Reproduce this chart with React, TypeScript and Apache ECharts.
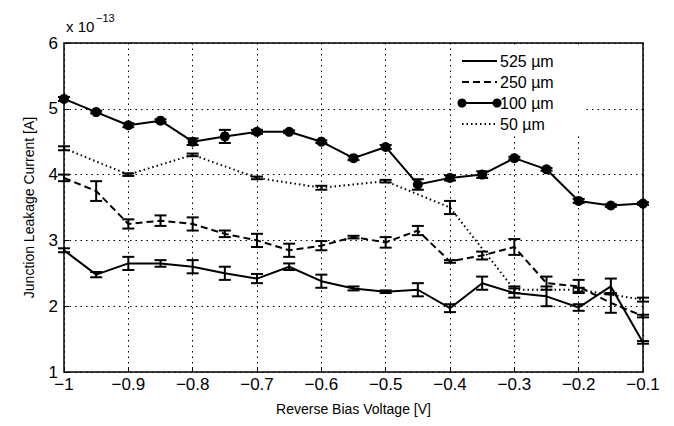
import React, { useEffect, useRef } from "react";
import * as echarts from "echarts";

const volts = [-1, -0.95, -0.9, -0.85, -0.8, -0.75, -0.7, -0.65, -0.6, -0.55, -0.5, -0.45, -0.4, -0.35, -0.3, -0.25, -0.2, -0.15, -0.1];
const volts50 = [-1, -0.9, -0.8, -0.7, -0.6, -0.5, -0.4, -0.3, -0.2, -0.1];

const i525 = [2.85, 2.48, 2.65, 2.65, 2.6, 2.5, 2.42, 2.6, 2.38, 2.27, 2.22, 2.25, 1.97, 2.35, 2.2, 2.15, 1.98, 2.3, 1.45];
const e525 = [0.03, 0.04, 0.1, 0.05, 0.1, 0.1, 0.07, 0.05, 0.1, 0.03, 0.02, 0.1, 0.06, 0.1, 0.07, 0.15, 0.05, 0.12, 0.02];
const i250 = [3.95, 3.75, 3.25, 3.3, 3.25, 3.1, 3.0, 2.85, 2.92, 3.05, 2.97, 3.15, 2.68, 2.77, 2.9, 2.35, 2.3, 2.05, 1.85];
const e250 = [0.05, 0.15, 0.07, 0.08, 0.1, 0.05, 0.1, 0.1, 0.07, 0.02, 0.08, 0.07, 0.02, 0.06, 0.12, 0.1, 0.1, 0.15, 0.02];
const i100 = [5.15, 4.95, 4.75, 4.82, 4.5, 4.58, 4.65, 4.65, 4.5, 4.25, 4.42, 3.85, 3.95, 4.0, 4.25, 4.08, 3.6, 3.53, 3.56];
const e100 = [0.03, 0.02, 0.03, 0.02, 0.05, 0.1, 0.03, 0.02, 0.02, 0.03, 0.03, 0.08, 0.04, 0.05, 0.02, 0.02, 0.03, 0.02, 0.02];
const i50 = [4.4, 4.0, 4.3, 3.95, 3.8, 3.9, 3.5, 2.25, 2.25, 2.1];
const e50 = [0.03, 0.02, 0.02, 0.02, 0.03, 0.02, 0.1, 0.05, 0.03, 0.03];

const xTicks = [-1, -0.9, -0.8, -0.7, -0.6, -0.5, -0.4, -0.3, -0.2, -0.1];

const FONT = "Liberation Sans";

function pairs(xs: number[], ys: number[]) {
  return xs.map((x, i) => [x, ys[i]]);
}
function errs(xs: number[], ys: number[], es: number[]) {
  return xs.map((x, i) => [x, ys[i] - es[i], ys[i] + es[i]]);
}

const errorSeries = (data: number[][]) => ({
  type: "custom",
  data,
  silent: true,
  z: 4,
  renderItem: (_p: any, api: any) => {
    const lo = api.coord([api.value(0), api.value(1)]);
    const hi = api.coord([api.value(0), api.value(2)]);
    const w = 6;
    const style = { stroke: "#000", lineWidth: 2 };
    return {
      type: "group",
      children: [
        { type: "line", shape: { x1: lo[0], y1: lo[1], x2: hi[0], y2: hi[1] }, style },
        { type: "line", shape: { x1: lo[0] - w, y1: lo[1], x2: lo[0] + w, y2: lo[1] }, style },
        { type: "line", shape: { x1: hi[0] - w, y1: hi[1], x2: hi[0] + w, y2: hi[1] }, style },
      ],
    };
  },
});

const App: React.FC = () => {
  const ref = useRef<HTMLDivElement>(null);

  useEffect(() => {
    if (!ref.current) return;
    const chart = echarts.init(ref.current, undefined, { renderer: "svg" });
    const lx = 462;
    const legendRows = [
      { y: 61, label: "525 µm", dash: "solid", dot: false },
      { y: 82, label: "250 µm", dash: [7, 4], dot: false },
      { y: 103, label: "100 µm", dash: "solid", dot: true },
      { y: 124, label: "50 µm", dash: [1.5, 3], dot: false },
    ];
    const legend: any[] = [];
    legendRows.forEach((r) => {
      legend.push({
        type: "line",
        shape: { x1: lx, y1: r.y, x2: lx + 35, y2: r.y },
        style: { stroke: "#000", lineWidth: 2, lineDash: r.dash as any },
      });
      if (r.dot) {
        legend.push({ type: "circle", shape: { cx: lx, cy: r.y, r: 4.5 }, style: { fill: "#000" } });
        legend.push({ type: "circle", shape: { cx: lx + 35, cy: r.y, r: 4.5 }, style: { fill: "#000" } });
      }
      legend.push({
        type: "text",
        x: lx + 38,
        y: r.y,
        style: { text: r.label, fontSize: 16, fontFamily: FONT, fill: "#000", verticalAlign: "middle" },
      });
    });

    chart.setOption({
      animation: false,
      backgroundColor: "#fff",
      grid: { left: 64, right: 31, top: 43, bottom: 54, show: true, borderColor: "#000", borderWidth: 1.5 },
      xAxis: {
        type: "value",
        min: -1,
        max: -0.1,
        interval: 0.1,
        name: "Reverse Bias Voltage [V]",
        nameLocation: "middle",
        nameGap: 30,
        nameTextStyle: { fontFamily: FONT, fontSize: 14, color: "#000" },
        axisLine: { show: false },
        axisTick: { inside: true, length: 5, lineStyle: { color: "#000" } },
        axisLabel: {
          fontFamily: FONT,
          fontSize: 17,
          color: "#000",
          margin: 4,
          formatter: (v: number) => (xTicks.some((t) => Math.abs(t - v) < 1e-6) ? String(+v.toFixed(1)).replace("-", "−") : ""),
        },
        splitLine: { show: true, lineStyle: { color: "#000", type: [1.5, 4], width: 1 } },
      },
      yAxis: {
        type: "value",
        min: 1,
        max: 6,
        interval: 1,
        name: "Junction Leakage Current [A]",
        nameLocation: "middle",
        nameGap: 28,
        nameTextStyle: { fontFamily: FONT, fontSize: 14, color: "#000" },
        axisLine: { show: false },
        axisTick: { inside: true, length: 5, lineStyle: { color: "#000" } },
        axisLabel: { fontFamily: FONT, fontSize: 17, color: "#000", margin: 6 },
        splitLine: { show: true, lineStyle: { color: "#000", type: [1.5, 4], width: 1 } },
      },
      graphic: [
        { type: "text", x: 66, y: 26, style: { text: "x 10", fontSize: 15, fontFamily: FONT, fill: "#000", verticalAlign: "middle" } },
        { type: "text", x: 96, y: 18, style: { text: "−13", fontSize: 11, fontFamily: FONT, fill: "#000", verticalAlign: "middle" } },
        { type: "rect", shape: { x: 455, y: 48, width: 130, height: 88 }, style: { fill: "#fff" }, z: 10 },
        ...legend.map((g) => ({ ...g, z: 11 })),
      ],
      series: [
        { type: "line", data: pairs(volts, i525), showSymbol: false, lineStyle: { color: "#000", width: 2 }, z: 3 },
        errorSeries(errs(volts, i525, e525)),
        { type: "line", data: pairs(volts, i250), showSymbol: false, lineStyle: { color: "#000", width: 2, type: [7, 4] }, z: 3 },
        errorSeries(errs(volts, i250, e250)),
        {
          type: "line",
          data: pairs(volts, i100),
          symbol: "circle",
          symbolSize: 10,
          itemStyle: { color: "#000" },
          lineStyle: { color: "#000", width: 2 },
          z: 3,
        },
        errorSeries(errs(volts, i100, e100)),
        { type: "line", data: pairs(volts50, i50), showSymbol: false, lineStyle: { color: "#000", width: 2, type: [1.5, 3] }, z: 3 },
        errorSeries(errs(volts50, i50, e50)),
      ],
    });
    return () => chart.dispose();
  }, []);

  return <div ref={ref} style={{ width: 674, height: 426, margin: -8 }} />;
};

export default App;
